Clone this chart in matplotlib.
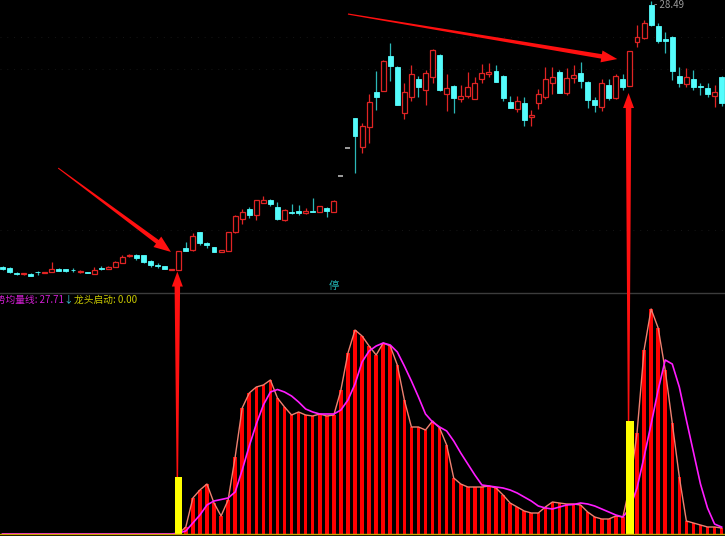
import numpy as np
import matplotlib
matplotlib.use("Agg")
import matplotlib.pyplot as plt
from matplotlib.patches import Rectangle, Polygon

plt.rcParams['font.family'] = ['Noto Sans CJK SC', 'DejaVu Sans']

# ---------------- data ----------------
opens = [11.65, 11.60, 11.29, 11.19, 11.22, 11.35, 11.25, 11.31, 11.54, 11.50,
         11.48, 11.33, 11.31, 11.20, 11.58, 11.50, 11.67, 11.92, 12.32, 12.41,
         12.41, 12.03, 11.77, 11.71, 11.48, 11.46, 12.83, 12.72, 13.88, 13.19,
         12.93, 12.58, 12.66, 13.84, 14.67, 15.30, 14.92, 15.72, 15.89, 15.45,
         14.62, 15.15, 15.21, 15.05, 15.21, 15.15, 15.38, 15.15, 17.41, 19.15,
         21.10, 19.26, 20.53, 22.71, 22.79, 25.00, 24.33, 21.41, 22.43, 23.53,
         22.85, 23.66, 25.07, 22.58, 23.10, 22.28, 22.49, 22.26, 23.55, 23.88,
         24.07, 23.74, 22.11, 21.65, 22.01, 21.16, 22.01, 22.39, 23.31, 24.01,
         22.68, 23.59, 23.95, 23.38, 22.22, 21.79, 23.17, 22.36, 23.55, 23.10,
         25.91, 26.12, 28.23, 26.92, 26.06, 26.23, 23.74, 23.23, 23.55, 23.10,
         22.96, 22.49, 23.69]
highs = [11.71, 11.65, 11.33, 11.27, 11.24, 11.39, 11.33, 11.98, 11.58, 11.52,
         11.60, 11.46, 11.33, 11.65, 11.68, 11.68, 12.00, 12.41, 12.47, 12.44,
         12.41, 12.09, 11.88, 11.71, 11.55, 12.69, 13.25, 13.78, 13.89, 13.20,
         12.94, 12.75, 13.89, 14.91, 15.32, 15.46, 15.92, 16.14, 15.97, 15.78,
         15.29, 15.64, 15.57, 15.36, 16.03, 15.54, 15.46, 15.86, 17.41, 19.15,
         21.11, 20.74, 22.60, 24.07, 24.72, 25.85, 24.34, 23.28, 24.43, 23.74,
         24.12, 25.43, 25.10, 23.86, 23.17, 23.17, 23.97, 23.66, 24.50, 24.58,
         24.43, 23.77, 22.47, 22.47, 22.43, 21.59, 22.90, 24.29, 24.33, 24.12,
         24.23, 24.43, 24.64, 23.39, 22.43, 23.53, 23.55, 23.86, 23.86, 25.35,
         26.97, 27.28, 28.49, 27.07, 26.54, 26.27, 24.33, 24.23, 24.12, 23.28,
         23.28, 23.17, 23.71]
lows = [11.46, 11.27, 11.14, 11.17, 11.05, 11.14, 11.24, 11.30, 11.39, 11.33,
        11.31, 11.27, 11.24, 11.20, 11.43, 11.49, 11.65, 11.90, 12.31, 12.09,
        11.93, 11.67, 11.60, 11.52, 11.46, 11.46, 12.66, 12.69, 13.04, 12.85,
        12.60, 12.57, 12.63, 13.83, 14.35, 14.73, 14.62, 15.70, 15.51, 14.62,
        14.59, 15.00, 14.94, 15.03, 15.13, 15.13, 14.79, 15.13, 17.41, 19.15,
        17.58, 18.88, 19.52, 21.59, 22.76, 23.44, 21.90, 21.00, 22.17, 22.43,
        21.90, 23.28, 22.79, 21.54, 21.38, 22.07, 22.33, 22.25, 23.28, 23.69,
        23.33, 22.17, 21.71, 21.48, 20.59, 20.57, 21.63, 22.26, 22.60, 22.64,
        22.53, 23.28, 22.96, 21.69, 21.48, 21.54, 22.22, 22.26, 22.85, 23.10,
        25.55, 26.11, 26.93, 25.81, 25.21, 23.48, 23.02, 23.02, 22.85, 22.53,
        22.43, 21.76, 21.84]
closes = [11.52, 11.35, 11.19, 11.25, 11.10, 11.31, 11.31, 11.50, 11.41, 11.41,
          11.44, 11.39, 11.25, 11.48, 11.50, 11.67, 11.98, 12.26, 12.41, 12.24,
          11.94, 11.77, 11.69, 11.54, 11.54, 12.68, 12.68, 13.63, 13.15, 13.02,
          12.62, 12.72, 13.88, 14.89, 15.11, 14.92, 15.89, 15.89, 15.62, 14.69,
          15.26, 15.08, 15.08, 15.19, 15.15, 15.53, 15.21, 15.83, 17.41, 19.15,
          19.94, 20.59, 22.11, 22.43, 24.69, 24.39, 21.92, 22.71, 23.86, 23.02,
          23.91, 25.38, 22.83, 22.96, 22.36, 22.49, 23.02, 23.31, 23.91, 23.97,
          23.34, 22.33, 21.73, 22.17, 20.95, 21.27, 22.58, 23.53, 23.66, 22.68,
          23.59, 23.80, 23.44, 22.22, 21.90, 23.28, 22.33, 23.74, 23.02, 25.34,
          26.19, 27.07, 26.97, 25.95, 25.97, 24.05, 23.28, 23.66, 23.02, 23.02,
          22.60, 22.74, 22.01]

# lower indicator: bar values (salmon outline) and trend average (magenta)
vol_values = [0] * 25 + [
    2, 28, 144, 176, 200, 124, 72, 136, 308, 504,
    564, 588, 596, 616, 544, 508, 476, 488, 476, 472,
    480, 472, 476, 576, 724, 816, 792, 752, 716, 764,
    752, 676, 536, 428, 428, 416, 452, 424, 356, 224,
    200, 188, 188, 188, 192, 184, 156, 124, 108, 92,
    84, 84, 108, 128, 124, 120, 120, 116, 88, 68,
    60, 60, 72, 68, 196, 404, 736, 900, 824, 656,
    444, 228, 52, 44, 36, 28, 28, 24]
trend_avg = [0] * 25 + [
    4, 12, 44, 76, 116, 132, 138, 144, 168, 256,
    352, 440, 516, 568, 578, 568, 552, 528, 500, 488,
    480, 480, 480, 496, 536, 600, 688, 732, 752, 764,
    756, 728, 672, 612, 548, 480, 448, 428, 412, 372,
    324, 280, 236, 196, 192, 188, 184, 176, 164, 148,
    132, 112, 104, 100, 108, 116, 118, 124, 120, 112,
    100, 88, 76, 68, 104, 184, 308, 440, 576, 696,
    680, 588, 456, 328, 200, 104, 40, 27.71]

signal_idx = [25, 89]          # 龙头启动 signals
signal_vals = [228, 452]

high_label = "28.49"
trend_label = "趋势均量线: 27.71"
signal_label = "龙头启动: 0.00"

# ---------------- style ----------------
RED = '#e02424'
CYAN = '#54fcfc'
CYAN_WICK = '#2cb8b8'
BG = 'black'

W, H = 725, 536
fig = plt.figure(figsize=(W / 100, H / 100), dpi=100, facecolor=BG)

top_px = 292
ax1 = fig.add_axes([0, (H - top_px) / H, 1, top_px / H], facecolor=BG)
ax2 = fig.add_axes([0, 0, 1, 243 / H], facecolor=BG)

n = len(opens)
x = np.arange(n)
xlim = (-0.355, 102.48)
for ax in (ax1, ax2):
    ax.set_xlim(*xlim)
    ax.set_xticks([])
    ax.set_yticks([])
    for s in ax.spines.values():
        s.set_visible(False)

ax1.set_ylim(10.065, 28.548)
ax2.set_ylim(-8, 964)

# barely visible dotted grid in price panel
for gp in [26.21, 24.18, 13.99]:
    ax1.axhline(gp, color='#161616', lw=0.7, ls=(0, (1, 6)), zorder=0)

bw = 0.7
for i in x:
    o, h, l, c = opens[i], highs[i], lows[i], closes[i]
    if o == h == l == c:
        ax1.hlines(c, i - 0.36, i + 0.36, color='#b8b8b8', lw=1.2, zorder=3)
    elif c >= o:
        ax1.vlines(i, c, h, color=RED, lw=0.9, zorder=2)
        ax1.vlines(i, l, o, color=RED, lw=0.9, zorder=2)
        ax1.add_patch(Rectangle((i - bw / 2, o), bw, c - o, facecolor=BG,
                                edgecolor=RED, lw=0.9, zorder=3))
    else:
        ax1.vlines(i, l, h, color=CYAN_WICK, lw=0.9, zorder=2)
        ax1.add_patch(Rectangle((i - bw / 2, c), bw, o - c, facecolor=CYAN,
                                edgecolor=CYAN, lw=0.6, zorder=3))

# high marker
ax1.text(92.45, 28.548, "- " + high_label, color='#9a9a9a', fontsize=7,
         ha='left', va='top', zorder=5)
# limit-up mark
ax1.text(47, 10.38, "停", color='#22b4b4', fontsize=7.5, ha='center', va='center')

# ---------------- lower panel ----------------
ax2.spines['top'].set_visible(True)
ax2.spines['top'].set_color('#3c3c3c')
ax2.spines['top'].set_linewidth(1.0)
ax2.bar(x, vol_values, width=0.5, color='#ff0000', zorder=2)
ax2.plot(x, vol_values, color='#f08070', lw=1.0, zorder=3)
ax2.plot(x, trend_avg, color='#ff1cff', lw=1.2, zorder=4)
ax2.bar(signal_idx, signal_vals, width=1.05, color='#ffff00', zorder=6)
ax2.axhline(0, color='#c8a400', lw=1.0, zorder=7)

# labels
ty = 1 - 299.5 / H
fig.text(-14.4 / W, ty, trend_label, color='#d21ed2', fontsize=7, ha='left', va='center')
fig.text(63.5 / W, ty, "↓", color='#3cc8dc', fontsize=7, ha='left', va='center')
fig.text(74 / W, ty, signal_label, color='#c8c800', fontsize=7, ha='left', va='center')

# ---------------- arrows ----------------
fig.canvas.draw()


def tapered_arrow(tail, tip, w_tail, w_shaft, head_w, head_len):
    t = np.asarray(tail, float)
    p = np.asarray(tip, float)
    d = p - t
    u = d / np.hypot(*d)
    nv = np.array([-u[1], u[0]])
    base = p - u * head_len
    pts = [t + nv * w_tail / 2, base + nv * w_shaft / 2, base + nv * head_w / 2, p,
           base - nv * head_w / 2, base - nv * w_shaft / 2, t - nv * w_tail / 2]
    pts = fig.transFigure.inverted().transform(np.array(pts))
    fig.add_artist(Polygon(pts, closed=True, transform=fig.transFigure,
                           facecolor='#ff1010', edgecolor='none', zorder=20))


# diagonal arrows pointing at the signal candles
tapered_arrow(ax1.transData.transform((7.9, 17.91)), ax1.transData.transform((23.9, 12.60)),
              1.0, 4.5, 13, 17)
tapered_arrow(ax1.transData.transform((49.0, 27.66)), ax1.transData.transform((87.2, 24.81)),
              1.2, 4.5, 12, 16)
# vertical arrows from the signal bars up to the candles
for si, sv, tip_price in [(signal_idx[0], signal_vals[0], 11.36), (signal_idx[1], signal_vals[1], 22.66)]:
    tail = ax2.transData.transform((si - 0.2, sv))
    tip = ax1.transData.transform((si - 0.2, tip_price))
    tapered_arrow(tail, tip, 1.5, 5.5, 11, 15)

fig.savefig("out.png", dpi=100, facecolor=BG)
